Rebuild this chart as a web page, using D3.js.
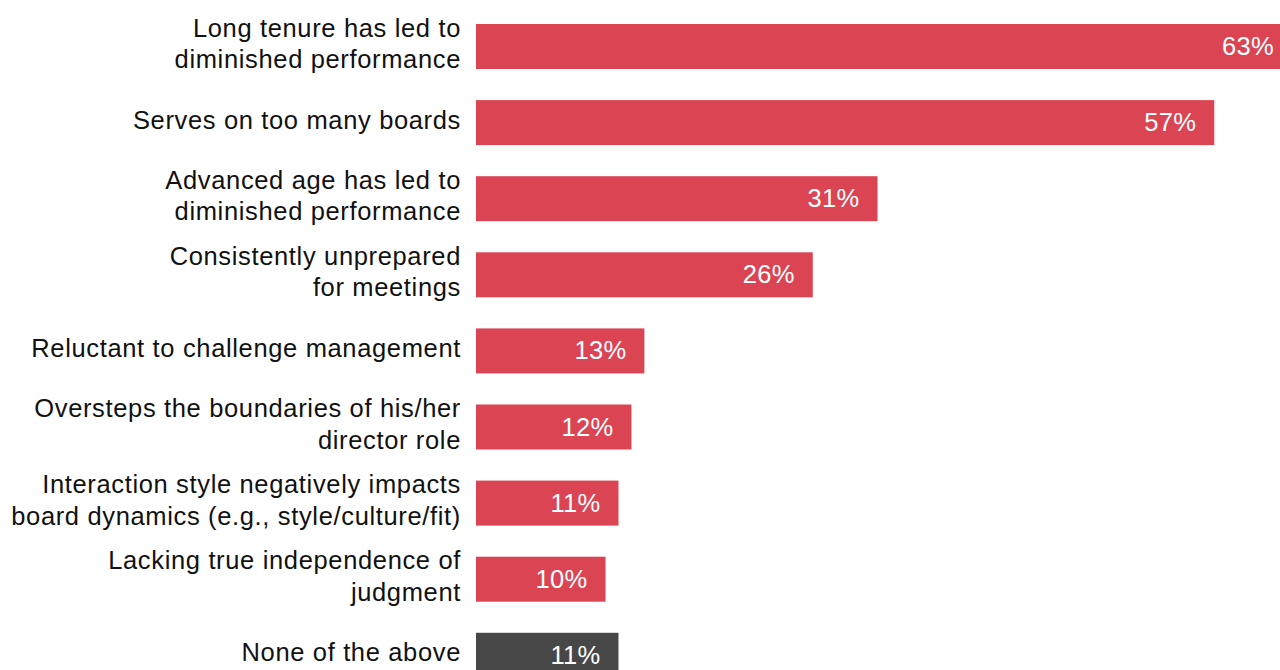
<!DOCTYPE html>
<html>
<head>
<meta charset="utf-8">
<script src="https://cdn.jsdelivr.net/npm/d3@7"></script>
<style>
  html, body { margin: 0; padding: 0; background: #fff; overflow: hidden; }
  svg { display: block; }
  text { font-family: "Liberation Sans", Arial, Helvetica, sans-serif; }
</style>
</head>
<body>
<svg id="chart" width="1280" height="670"></svg>
<script>
// Reasons a director might be replaced (share of respondents, %)
const categories = [
  ["Long tenure has led to", "diminished performance"],
  ["Serves on too many boards"],
  ["Advanced age has led to", "diminished performance"],
  ["Consistently unprepared", "for meetings"],
  ["Reluctant to challenge management"],
  ["Oversteps the boundaries of his/her", "director role"],
  ["Interaction style negatively impacts", "board dynamics (e.g., style/culture/fit)"],
  ["Lacking true independence of", "judgment"],
  ["None of the above"]
];
const values = [63, 57, 31, 26, 13, 12, 11, 10, 11];
const isNone = [false, false, false, false, false, false, false, false, true];

const keys = categories.map((c, i) => i);
const svg = d3.select("#chart");

const barLeft = 476;
const x = d3.scaleLinear().domain([0, 63]).range([barLeft, 1292]);

const step = 76.1;
const pad = 1 - 45 / step;
const y0 = 24 - (pad / 2) * step;
const y = d3.scaleBand()
  .domain(keys)
  .range([y0, y0 + step * keys.length])
  .paddingInner(pad)
  .paddingOuter(pad / 2);

const red = "#db4453";
const dark = "#474747";
const fontSize = 25.5;
const spacing = 0.65;

const rows = svg.selectAll("g.row")
  .data(keys)
  .join("g")
  .attr("class", "row");

rows.append("rect")
  .attr("x", x(0))
  .attr("y", i => y(i))
  .attr("width", i => x(values[i]) - x(0))
  .attr("height", y.bandwidth())
  .attr("fill", i => isNone[i] ? dark : red);

rows.append("text")
  .attr("x", i => x(values[i]) - 18)
  .attr("y", i => y(i) + y.bandwidth() / 2 + 8.5)
  .attr("text-anchor", "end")
  .attr("fill", "#fff")
  .attr("font-size", fontSize)
  .attr("letter-spacing", 0.3)
  .text(i => values[i] + "%");

// Category labels, right aligned against the bars
const labels = rows.append("text")
  .attr("text-anchor", "end")
  .attr("fill", "#111")
  .attr("font-size", fontSize)
  .attr("letter-spacing", spacing);

labels.each(function (i) {
  const lines = categories[i];
  const cy = y(i) + y.bandwidth() / 2;
  const lh = 31.5;
  const first = lines.length > 1 ? cy - 10 : cy + 6;
  d3.select(this).selectAll("tspan")
    .data(lines)
    .join("tspan")
    .attr("x", 461)
    .attr("y", (d, k) => first + k * lh)
    .text(d => d);
});
</script>
</body>
</html>
